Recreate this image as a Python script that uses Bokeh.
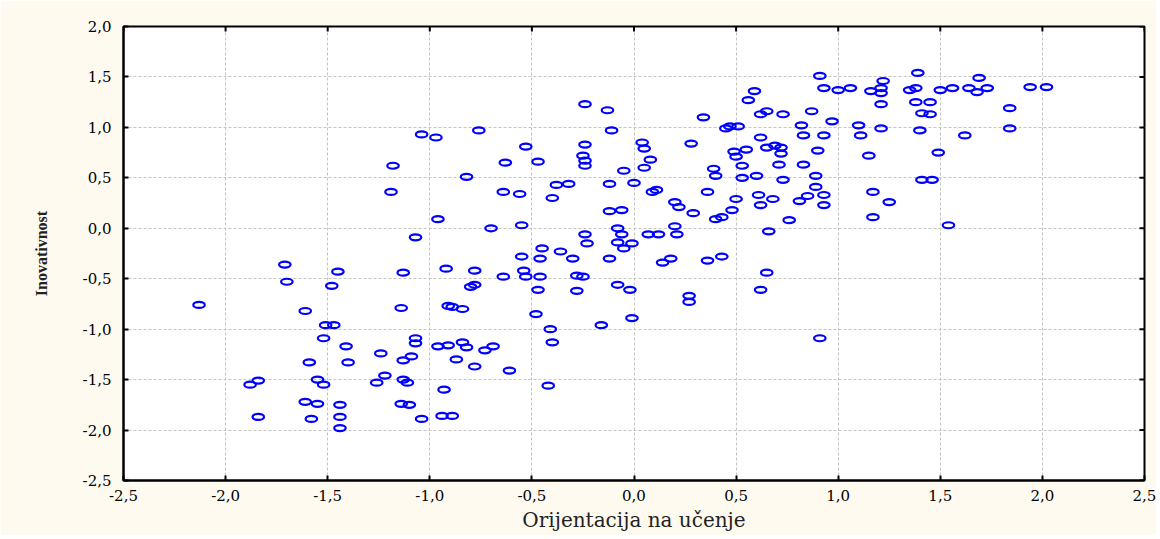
import math
from bokeh.plotting import figure
from bokeh.models import FixedTicker, ColumnDataSource
from bokeh.embed import file_html
from bokeh.resources import INLINE

x_label = "Orijentacija na učenje"
y_label = "Inovativnost"

x_ticks = [-2.5, -2.0, -1.5, -1.0, -0.5, 0.0, 0.5, 1.0, 1.5, 2.0, 2.5]
y_ticks = [-2.5, -2.0, -1.5, -1.0, -0.5, 0.0, 0.5, 1.0, 1.5, 2.0]

x_vals = [
    -2.13, -1.71, -1.70, -1.45, -1.48, -1.61, -1.51, -1.47, -1.52, -1.41, -1.59, -1.40, -1.88, -1.84, -1.55, -1.52, -1.61, -1.55, -1.44, -1.84, -1.58, -1.44, -1.44,
    -1.07, -1.13, -0.92, -1.14, -0.91, -1.07, -1.07, -1.24, -0.96, -0.91, -1.13, -1.09, -0.87, -1.26, -1.22, -1.13, -1.11, -0.93, -1.14, -1.10, -1.04, -0.94, -0.89,
    -0.78, -0.64, -0.54, -0.53, -0.46, -0.28, -0.25, 0.65, -0.78, -0.80, -0.47, -0.28, -0.08, -0.02, 0.27, 0.27, 0.62,
    -0.89, -0.84, -0.48, -0.01, -0.16, -0.41, -0.84, -0.82, -0.73, -0.69, -0.40, -0.78, -0.61, -0.42,
    -0.45, -0.36, -0.55, -0.46, -0.30, -0.23, -0.08, -0.01, -0.05, -0.12, 0.14, 0.18, 0.36, 0.43,
    -0.24, -0.13, -0.76, -0.11, -1.04, -0.97, -0.53, -0.24, 0.04, 0.05, 0.28, -0.25, -0.24, -0.24, -0.47, -0.63, 0.08, 0.05, -0.05, -0.82,
    -0.38, -0.32, -0.12, 0.00, 0.09, 0.11, -0.64, -0.56, -0.40, -0.96, 0.20, 0.22, 0.29, -0.12, -0.06, -0.70, -0.55, -0.08, -0.06, -0.24,
    0.07, 0.12, 0.20, 0.21,
    -1.18, -1.19, 0.66,
    0.34, 0.59, 0.56, 0.62, 0.65, 0.73, 0.45, 0.47, 0.51, 0.62, 0.49, 0.55, 0.50, 0.65, 0.53, 0.39, 0.40, 0.53, 0.60, 0.36,
    0.61, 0.62, 0.68, 0.50, 0.48, 0.40, 0.43,
    0.91, 1.39, 1.22, 1.69, 0.93, 1.00, 1.06, 1.16, 1.21, 1.21, 1.35, 1.38, 1.50, 1.56, 1.64, 1.68, 1.73, 1.94, 2.02, 1.21,
    1.38, 1.45, 1.41, 1.45, 1.84, 0.87, 0.82, 0.97, 1.10, 1.21, 1.40, 1.84, 1.62, 0.83, 0.93, 1.11, 0.69, 0.72, 0.72, 0.90,
    1.15, 1.49, 0.71, 0.83, 0.73, 0.89, 0.89, 1.41, 1.46, 0.81, 0.85, 0.93, 0.93, 1.17, 1.25, 0.76, 1.17, 1.54, 0.91,
]

y_vals = [
    -0.76, -0.36, -0.53, -0.43, -0.57, -0.82, -0.96, -0.96, -1.09, -1.17, -1.33, -1.33, -1.55, -1.51, -1.50, -1.55, -1.72, -1.74, -1.75, -1.87, -1.89, -1.87, -1.98,
    -0.09, -0.44, -0.40, -0.79, -0.77, -1.09, -1.14, -1.24, -1.17, -1.16, -1.31, -1.27, -1.30, -1.53, -1.46, -1.50, -1.53, -1.60, -1.74, -1.75, -1.89, -1.86, -1.86,
    -0.42, -0.48, -0.42, -0.48, -0.48, -0.47, -0.48, -0.44, -0.56, -0.58, -0.61, -0.62, -0.56, -0.61, -0.67, -0.73, -0.61,
    -0.78, -0.80, -0.85, -0.89, -0.96, -1.00, -1.13, -1.18, -1.21, -1.17, -1.13, -1.37, -1.41, -1.56,
    -0.20, -0.23, -0.28, -0.30, -0.30, -0.15, -0.14, -0.15, -0.20, -0.30, -0.34, -0.30, -0.32, -0.28,
    1.23, 1.17, 0.97, 0.97, 0.93, 0.90, 0.81, 0.83, 0.85, 0.79, 0.84, 0.72, 0.67, 0.62, 0.66, 0.65, 0.68, 0.60, 0.57, 0.51,
    0.43, 0.44, 0.44, 0.45, 0.36, 0.38, 0.36, 0.34, 0.30, 0.09, 0.26, 0.21, 0.15, 0.17, 0.18, 0.00, 0.03, 0.00, -0.06, -0.06,
    -0.06, -0.06, 0.02, -0.06,
    0.62, 0.36, -0.03,
    1.10, 1.36, 1.27, 1.13, 1.16, 1.13, 0.99, 1.01, 1.01, 0.90, 0.76, 0.78, 0.71, 0.80, 0.62, 0.59, 0.52, 0.50, 0.52, 0.36,
    0.33, 0.23, 0.29, 0.29, 0.18, 0.09, 0.11,
    1.51, 1.54, 1.46, 1.49, 1.39, 1.37, 1.39, 1.36, 1.39, 1.34, 1.37, 1.39, 1.37, 1.39, 1.39, 1.35, 1.39, 1.40, 1.40, 1.23,
    1.25, 1.25, 1.14, 1.13, 1.19, 1.16, 1.02, 1.06, 1.02, 0.99, 0.97, 0.99, 0.92, 0.92, 0.92, 0.92, 0.82, 0.80, 0.74, 0.77,
    0.72, 0.75, 0.63, 0.63, 0.48, 0.52, 0.41, 0.48, 0.48, 0.27, 0.32, 0.33, 0.23, 0.36, 0.26, 0.08, 0.11, 0.03, -1.09,
]


def fmt(v):
    return ("%.1f" % v).replace(".", ",")


source = ColumnDataSource(data=dict(x=x_vals, y=y_vals))

CREAM = "#FFFAF0"
SERIF = "DejaVu Serif"

p = figure(
    frame_width=1021, frame_height=454,
    min_border_left=123, min_border_right=12, min_border_top=26, min_border_bottom=55,
    x_range=(x_ticks[0], x_ticks[-1]), y_range=(y_ticks[0], y_ticks[-1]),
    output_backend="svg", toolbar_location=None,
    x_axis_label=x_label, y_axis_label=y_label,
)
p.background_fill_color = "white"
p.border_fill_color = CREAM
p.outline_line_color = "black"
p.outline_line_width = 2

for g, ticks in ((p.xgrid[0], x_ticks), (p.ygrid[0], y_ticks)):
    g.ticker = FixedTicker(ticks=ticks)
    g.grid_line_color = "#C4C4C4"
    g.grid_line_dash = "3 2"
    g.grid_line_width = 1

p.ellipse(x="x", y="y", width=11.5, height=6, width_units="screen", height_units="screen",
          fill_color=None, line_color="#0000FF", line_width=2.2, source=source)

# inward tick marks on the top and right frame edges
p.scatter(x=x_ticks, y=[y_ticks[-1]] * len(x_ticks), marker="dash", angle=math.pi / 2,
          size=10, line_color="black", line_width=2)
p.scatter(x=[x_ticks[-1]] * len(y_ticks), y=y_ticks, marker="dash",
          size=10, line_color="black", line_width=2)

for ax, ticks in ((p.xaxis[0], x_ticks), (p.yaxis[0], y_ticks)):
    ax.ticker = FixedTicker(ticks=ticks)
    ax.major_label_overrides = {t: fmt(t) for t in ticks}
    ax.minor_tick_line_color = None
    ax.major_tick_in = 5
    ax.major_tick_out = 0
    ax.major_tick_line_width = 2
    ax.axis_line_width = 2
    ax.major_label_text_font = SERIF
    ax.major_label_text_font_size = "15px"
    ax.major_label_text_color = "black"

p.xaxis.major_label_standoff = 9
p.yaxis.major_label_standoff = 12
p.xaxis.axis_label_text_font = SERIF
p.xaxis.axis_label_text_font_size = "20px"
p.xaxis.axis_label_text_font_style = "normal"
p.xaxis.axis_label_text_color = "#222222"
p.xaxis.axis_label_standoff = 4
p.yaxis.axis_label_text_font = "Liberation Serif"
p.yaxis.axis_label_text_font_size = "16px"
p.yaxis.axis_label_text_font_style = "bold"
p.yaxis.axis_label_text_color = "#222222"
p.yaxis.axis_label_standoff = 30

open("out.html", "w").write(file_html(p, INLINE))
